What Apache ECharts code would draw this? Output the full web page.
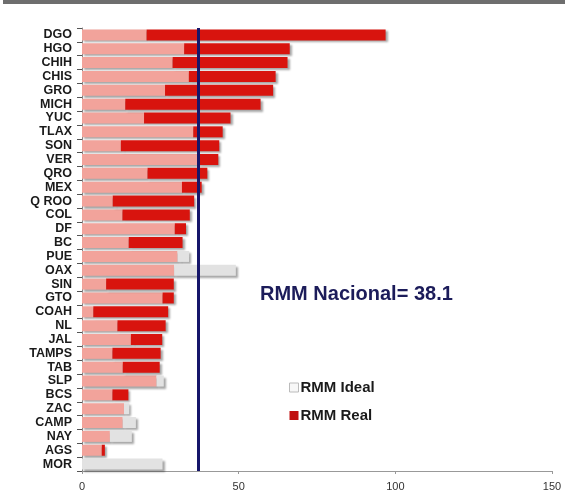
<!DOCTYPE html>
<html><head><meta charset="utf-8">
<script src="https://cdn.jsdelivr.net/npm/echarts@6/dist/echarts.min.js"></script>
<style>html,body{margin:0;padding:0;background:#fff}#c{width:568px;height:496px}</style>
</head><body><div id="c"></div>
<script>
const categories = ['DGO','HGO','CHIH','CHIS','GRO','MICH','YUC','TLAX','SON','VER','QRO','MEX','Q ROO','COL','DF','BC','PUE','OAX','SIN','GTO','COAH','NL','JAL','TAMPS','TAB','SLP','BCS','ZAC','CAMP','NAY','AGS','MOR'];
const rmmIdeal = [20.6,32.6,28.9,34.1,26.5,13.8,19.8,35.5,12.4,37.4,20.9,31.9,9.8,12.9,29.6,14.9,34.2,49.1,7.7,25.7,3.6,11.3,15.6,9.7,13.0,26.1,9.7,15.1,17.2,15.9,6.3,25.7];
const rmmReal  = [96.9,66.3,65.6,61.8,61.0,57.0,47.4,44.9,43.8,43.5,40.0,38.2,35.8,34.4,33.2,32.1,30.5,29.4,29.3,29.3,27.5,26.7,25.6,25.1,24.8,23.8,14.8,13.4,13.0,8.9,7.3,0];
const lineValue = 37;
const nationalLabel = 'RMM Nacional= 38.1';
const xTicks = [0, 50, 100, 150];

const overlap = rmmIdeal.map((v, i) => Math.min(v, rmmReal[i]));
const realExcess = rmmReal.map((v, i) => Math.max(v - rmmIdeal[i], 0));
const idealExcess = rmmIdeal.map((v, i) => Math.max(v - rmmReal[i], 0));

const shadow = {shadowColor:'rgba(0,0,0,0.35)', shadowBlur:2, shadowOffsetX:2, shadowOffsetY:2};
const chart = echarts.init(document.getElementById('c'));
chart.setOption({
  animation: false,
  backgroundColor: '#fff',
  grid: {left: 82, right: 16, top: 28, bottom: 25, containLabel: false},
  xAxis: {
    type: 'value', min: xTicks[0], max: xTicks[xTicks.length-1], interval: 50,
    axisLine: {show: true, lineStyle: {color: '#999'}},
    axisTick: {show: true, length: 3, lineStyle: {color: '#999'}},
    axisLabel: {color: '#333', fontFamily: 'Liberation Sans, Arial', fontSize: 11, margin: 10},
    splitLine: {show: false}
  },
  yAxis: {
    type: 'category', data: categories, inverse: true,
    axisLine: {show: true, lineStyle: {color: '#888'}},
    axisTick: {show: true, length: 5, lineStyle: {color: '#555'}},
    axisLabel: {interval: 0, color: '#1a1a1a', fontFamily: 'Liberation Sans, Arial', fontWeight: 'bold', fontSize: 12.5, margin: 10}
  },
  legend: {
    orient: 'vertical', left: 284, top: 375, itemGap: 13, itemWidth: 9, itemHeight: 9,
    data: [
      {name: 'RMM Ideal', icon: 'rect', itemStyle: {color: '#f7f7f7', borderColor: '#bbb', borderWidth: 1}},
      {name: 'RMM Real', icon: 'rect', itemStyle: {color: '#c01010'}}
    ],
    textStyle: {fontFamily: 'Liberation Sans, Arial', fontWeight: 'bold', fontSize: 15, color: '#1a1a1a', padding: [0,0,0,-3]}
  },
  graphic: [
    {type: 'rect', shape: {x: 3, y: 0, width: 562, height: 4}, style: {fill: '#6e6e6e'}},
    {type: 'text', left: 260, top: 284, style: {text: nationalLabel, fill: '#1c1c5a', font: 'bold 20px "Liberation Sans", Arial'}}
  ],
  series: [
    {name: 'overlap', type: 'bar', stack: 's', data: overlap, barWidth: 11,
      itemStyle: Object.assign({color: '#f2a39b'}, shadow)},
    {name: 'RMM Real', type: 'bar', stack: 's', data: realExcess, barWidth: 11,
      itemStyle: Object.assign({color: '#d8140e'}, shadow)},
    {name: 'RMM Ideal', type: 'bar', stack: 's', data: idealExcess, barWidth: 11,
      itemStyle: Object.assign({color: '#e2e2e2'}, shadow),
      markLine: {silent: true, symbol: 'none', label: {show: false},
        lineStyle: {color: '#16166a', width: 3, type: 'solid'},
        data: [{xAxis: lineValue}]}}
  ]
});
</script></body></html>
